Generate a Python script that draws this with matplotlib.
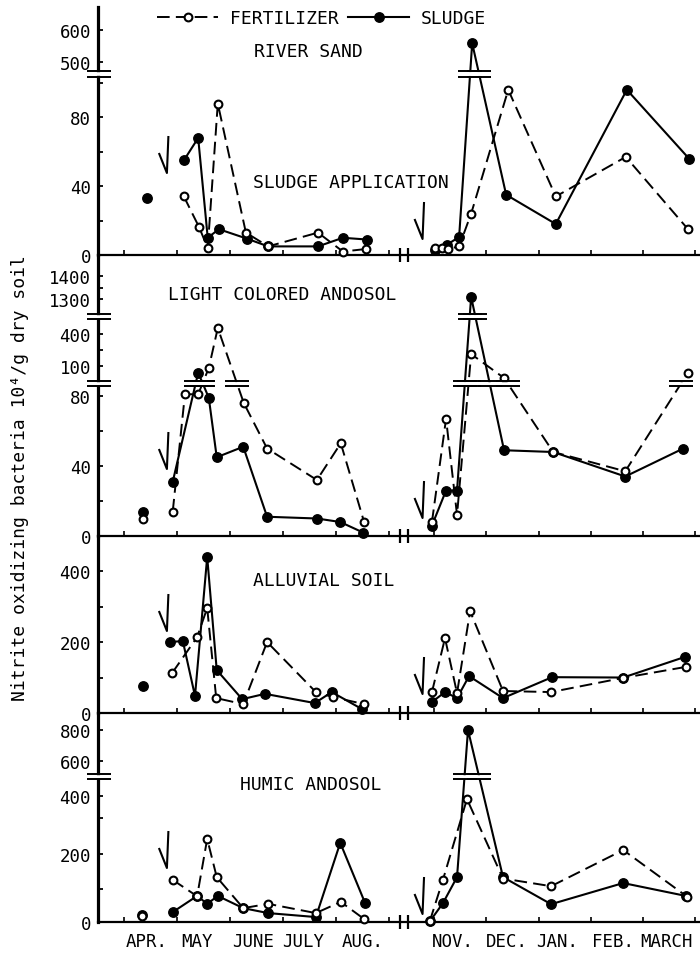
import numpy as np
import matplotlib
matplotlib.use("Agg")
import matplotlib.pyplot as plt
from matplotlib.lines import Line2D
from matplotlib.transforms import IdentityTransform

plt.rcParams['font.family'] = ['DejaVu Sans Mono', 'DejaVu Sans']

# ---------------- data (x = decimal month; 11..16 = Nov..Mar of following year) ----------------
MONTH_TICKS = [4, 5, 6, 7, 8, 9, 11, 12, 13, 14, 15, 16]
MONTH_LABELS = ['APR.', 'MAY', 'JUNE', 'JULY', 'AUG.', 'NOV.', 'DEC.', 'JAN.', 'FEB.', 'MARCH']
MONTH_LABEL_POS = [4.43, 5.38, 6.43, 7.38, 8.51, 11.36, 12.40, 13.35, 14.43, 15.44]
APPLY_X = [4.81, 10.78]

# River sand
rs_pre_x = [4.43]
rs_pre_fert = []
rs_pre_sludge = [33]
rs_fert_x1 = [5.13, 5.42, 5.58, 5.77, 6.30, 6.72, 7.66, 8.13, 8.57]
rs_fert_y1 = [34, 16, 4, 88, 13, 5, 13, 2, 3.5]
rs_sludge_x1 = [5.13, 5.40, 5.58, 5.79, 6.32, 6.72, 7.66, 8.13, 8.58]
rs_sludge_y1 = [55, 68, 10, 15, 9.5, 5, 5, 10, 9]
rs_fert_x2 = [11.02, 11.15, 11.27, 11.48, 11.71, 12.42, 13.33, 14.67, 15.86]
rs_fert_y2 = [4, 4, 3.5, 5, 24, 96, 34, 57, 15]
rs_sludge_x2 = [11.02, 11.25, 11.48, 11.73, 12.38, 13.33, 14.69, 15.88]
rs_sludge_y2 = [3, 6, 10.5, 559, 35, 18, 96, 56]

# Light colored andosol
lc_pre_x = [4.35]
lc_pre_fert = [10]
lc_pre_sludge = [14]
lc_fert_x1 = [4.92, 5.15, 5.40, 5.60, 5.77, 6.26, 6.70, 7.64, 8.09, 8.53]
lc_fert_y1 = [14, 81, 81, 98.5, 456, 76, 50, 32, 53, 8]
lc_sludge_x1 = [4.92, 5.40, 5.60, 5.75, 6.25, 6.70, 7.64, 8.08, 8.51]
lc_sludge_y1 = [31, 95, 79, 45, 51, 11, 10, 8, 2]
lc_fert_x2 = [10.96, 11.23, 11.44, 11.71, 12.34, 13.28, 14.66, 15.86]
lc_fert_y2 = [8, 67, 12, 212, 91, 48, 37, 95]
lc_sludge_x2 = [10.96, 11.23, 11.44, 11.71, 12.34, 13.28, 14.66, 15.77]
lc_sludge_y2 = [6, 26, 26, 1309, 49, 48, 34, 50]

# Alluvial soil
al_pre_x = [4.36]
al_pre_fert = []
al_pre_sludge = [76]
al_fert_x1 = [4.91, 5.38, 5.57, 5.74, 6.25, 6.70, 7.62, 7.94, 8.53]
al_fert_y1 = [113, 214, 296, 42, 25, 200, 59, 45, 25]
al_sludge_x1 = [4.87, 5.11, 5.34, 5.57, 5.75, 6.23, 6.66, 7.60, 7.92, 8.49]
al_sludge_y1 = [200, 203, 48, 440, 121, 39, 54, 28, 59, 11]
al_fert_x2 = [10.96, 11.21, 11.44, 11.69, 12.32, 13.24, 14.62, 15.82]
al_fert_y2 = [59, 211, 56, 287, 62, 59, 99, 130]
al_sludge_x2 = [10.96, 11.21, 11.44, 11.67, 12.32, 13.26, 14.62, 15.80]
al_sludge_y2 = [31, 59, 42, 104, 42, 101, 100, 158]

# Humic andosol
hu_pre_x = [4.34]
hu_pre_fert = [18]
hu_pre_sludge = [22]
hu_fert_x1 = [4.92, 5.38, 5.57, 5.75, 6.25, 6.72, 7.62, 8.09, 8.53]
hu_fert_y1 = [126, 78, 242, 134, 42, 55, 27, 61, 9]
hu_sludge_x1 = [4.92, 5.38, 5.57, 5.77, 6.25, 6.72, 7.62, 8.08, 8.55]
hu_sludge_y1 = [30, 79, 55, 79, 42, 27, 15, 231, 57]
hu_fert_x2 = [10.92, 11.17, 11.63, 12.32, 13.24, 14.62, 15.84]
hu_fert_y2 = [3, 126, 386, 130, 108, 211, 77]
hu_sludge_x2 = [10.92, 11.17, 11.44, 11.65, 12.32, 13.24, 14.62, 15.82]
hu_sludge_y2 = [2, 57, 134, 800, 134, 54, 117, 79]

TITLES = ['RIVER SAND', 'LIGHT COLORED ANDOSOL', 'ALLUVIAL SOIL', 'HUMIC ANDOSOL']
YTICKS = [[0, 40, 80, 500, 600], [0, 40, 80, 100, 400, 1300, 1400], [0, 200, 400], [0, 200, 400, 600, 800]]
YMINOR = [[20, 60, 100], [20, 60, 250, 1350], [100, 300], [100, 300]]

# ---------------- broken-axis scale definitions (value knots -> pixel height) ----------------
XK = [3.51, 9.2, 10.5, 16.1]
XP = [98.0, 399.6, 407.9, 700.5]
Y_KNOTS = [
    ([0, 104, 469, 672], [0, 179, 183, 248]),
    ([0, 86, 88, 100, 400, 550, 1230, 1300, 1400, 1491], [0, 150.5, 154, 170, 202, 218, 221, 237, 260, 281]),
    ([0, 499], [0, 177]),
    ([0, 100, 200, 300, 400, 470, 520, 600, 800, 910], [0, 33, 68, 104, 126, 142, 149, 161, 192, 209]),
]
Y_BREAKS = [[(104, 469)], [(86, 88), (550, 1230)], [], [(470, 520)]]

# layout (pixels)
W, H = 700, 954
TOPS = [8, 256, 537, 714]
BOTS = [256, 537, 714, 923]
TITLE_POS = [(308, 52), (282, 295), (324, 581), (311, 785)]
TIP_LEFT = [82, 67, 82, 54]
TIP_RIGHT = [16, 18, 19, 8]


def pw(xs, ys):
    xs = np.asarray(xs, float)
    ys = np.asarray(ys, float)
    s0 = (ys[1] - ys[0]) / (xs[1] - xs[0])
    s1 = (ys[-1] - ys[-2]) / (xs[-1] - xs[-2])

    def f(v):
        v = np.asarray(v, float)
        out = np.interp(v, xs, ys)
        out = np.where(v < xs[0], ys[0] + (v - xs[0]) * s0, out)
        out = np.where(v > xs[-1], ys[-1] + (v - xs[-1]) * s1, out)
        return out
    return f


fig = plt.figure(figsize=(W / 100, H / 100), dpi=100)
ID = IdentityTransform()


def pix_line(xs, ys, lw=1.5, color='black', z=10):
    fig.add_artist(Line2D(xs, ys, transform=ID, lw=lw, color=color, zorder=z,
                          solid_capstyle='butt'))


def draw_eq(xd, yd, half=12):
    pix_line([xd - half, xd + half], [yd, yd], lw=2.6, color='white', z=11)
    pix_line([xd - half, xd + half], [yd + 2.6, yd + 2.6], lw=1.4, z=12)
    pix_line([xd - half, xd + half], [yd - 2.6, yd - 2.6], lw=1.4, z=12)


FERT_STYLE = dict(color='black', lw=1.4, ls=(0, (6.5, 3.2)), marker='o', ms=5.6,
                  mfc='white', mec='black', mew=1.5, clip_on=False, zorder=5)
SLUDGE_STYLE = dict(color='black', lw=1.5, ls='-', marker='o', ms=6.8,
                    mfc='black', mec='black', mew=1.0, clip_on=False, zorder=4)

SERIES = [
    (rs_pre_x, rs_pre_fert, rs_pre_sludge, rs_fert_x1, rs_fert_y1, rs_sludge_x1, rs_sludge_y1,
     rs_fert_x2, rs_fert_y2, rs_sludge_x2, rs_sludge_y2),
    (lc_pre_x, lc_pre_fert, lc_pre_sludge, lc_fert_x1, lc_fert_y1, lc_sludge_x1, lc_sludge_y1,
     lc_fert_x2, lc_fert_y2, lc_sludge_x2, lc_sludge_y2),
    (al_pre_x, al_pre_fert, al_pre_sludge, al_fert_x1, al_fert_y1, al_sludge_x1, al_sludge_y1,
     al_fert_x2, al_fert_y2, al_sludge_x2, al_sludge_y2),
    (hu_pre_x, hu_pre_fert, hu_pre_sludge, hu_fert_x1, hu_fert_y1, hu_sludge_x1, hu_sludge_y1,
     hu_fert_x2, hu_fert_y2, hu_sludge_x2, hu_sludge_y2),
]

for i in range(4):
    top, bot = TOPS[i], BOTS[i]
    ax = fig.add_axes([98 / W, 1 - bot / H, 602 / W, (bot - top) / H])
    ax.patch.set_alpha(0)
    vk, hk = Y_KNOTS[i]
    ax.set_xscale('function', functions=(pw(XK, XP), pw(XP, XK)))
    ax.set_yscale('function', functions=(pw(vk, hk), pw(hk, vk)))
    ax.set_xlim(XK[0], 16.09)
    ax.set_ylim(0, vk[-1])
    for s in ('top', 'right'):
        ax.spines[s].set_visible(False)
    ax.spines['left'].set_linewidth(2.3)
    ax.spines['bottom'].set_linewidth(1.6)

    ax.set_yticks(YTICKS[i], [str(t) for t in YTICKS[i]])
    ax.set_yticks(YMINOR[i], minor=True)
    ax.tick_params(axis='y', which='both', direction='in', length=3.8, width=1.3, pad=5,
                   labelsize=12.5)
    ax.set_xticks(MONTH_TICKS, [''] * len(MONTH_TICKS))
    ax.tick_params(axis='x', which='major', direction='in', length=3.8, width=1.2)
    if i == 3:
        ax.set_xticks(MONTH_LABEL_POS, MONTH_LABELS, minor=True)
        ax.tick_params(axis='x', which='minor', length=0, pad=7.5, labelsize=12.5)
    else:
        ax.set_xticks([], minor=True)

    (px, pf, ps, fx1, fy1, sx1, sy1, fx2, fy2, sx2, sy2) = SERIES[i]
    for xs, ys in ((sx1, sy1), (sx2, sy2)):
        ax.plot(xs, ys, **SLUDGE_STYLE)
    for xs, ys in ((fx1, fy1), (fx2, fy2)):
        ax.plot(xs, ys, **FERT_STYLE)
    if ps:
        ax.plot(px[:len(ps)], ps, **{**SLUDGE_STYLE, 'ls': 'none'})
    if pf:
        ax.plot(px[:len(pf)], pf, **{**FERT_STYLE, 'ls': 'none'})

    # break marks on lines and on the axis
    for (blo, bhi) in Y_BREAKS[i]:
        dlo = ax.transData.transform((5, blo))[1]
        dhi = ax.transData.transform((5, bhi))[1]
        yd = 0.5 * (dlo + dhi)
        draw_eq(99, yd, half=12)
        for xs, ys in ((sx1, sy1), (sx2, sy2), (fx1, fy1), (fx2, fy2)):
            for k in range(len(xs) - 1):
                v0, v1 = ys[k], ys[k + 1]
                if min(v0, v1) <= blo and max(v0, v1) >= bhi:
                    p0 = ax.transData.transform((xs[k], v0))
                    p1 = ax.transData.transform((xs[k + 1], v1))
                    t = (yd - p0[1]) / (p1[1] - p0[1])
                    draw_eq(p0[0] + t * (p1[0] - p0[0]), yd, half=12)

    # x-axis break bars
    base = ax.transAxes.transform((0, 0))[1]
    for xb in (XK[1], XK[2]):
        xd = ax.transData.transform((xb, 0))[0]
        pix_line([xd, xd], [base - 7, base + 7], lw=1.6)

    # sludge application marks
    for xa, tip in zip(APPLY_X, (TIP_LEFT[i], TIP_RIGHT[i])):
        xd = ax.transData.transform((xa, 0))[0]
        yt = base + tip
        pix_line([xd - 8, xd, xd + 1.5], [yt + 20, yt, yt + 37], lw=1.5)

    tx, ty = TITLE_POS[i]
    fig.text(tx / W, 1 - ty / H, TITLES[i], ha='center', va='center', fontsize=13)

fig.text(351 / W, 1 - 183 / H, 'SLUDGE APPLICATION', ha='center', va='center', fontsize=13)
fig.text(20 / W, 1 - 478 / H, 'Nitrite oxidizing bacteria 10\u2074/g dry soil', rotation=90,
         ha='center', va='center', fontsize=13)

handles = [Line2D([], [], **{k: v for k, v in FERT_STYLE.items() if k not in ('clip_on', 'zorder')}),
           Line2D([], [], **{k: v for k, v in SLUDGE_STYLE.items() if k not in ('clip_on', 'zorder')})]
fig.legend(handles, ['FERTILIZER', 'SLUDGE'], ncol=2, loc='center left',
           bbox_to_anchor=(157 / W, 1 - 19 / H), frameon=False, handlelength=3.4,
           handletextpad=0.65, columnspacing=0.5, borderpad=0, borderaxespad=0,
           fontsize=13, numpoints=1)

fig.savefig('out.png', dpi=100)
